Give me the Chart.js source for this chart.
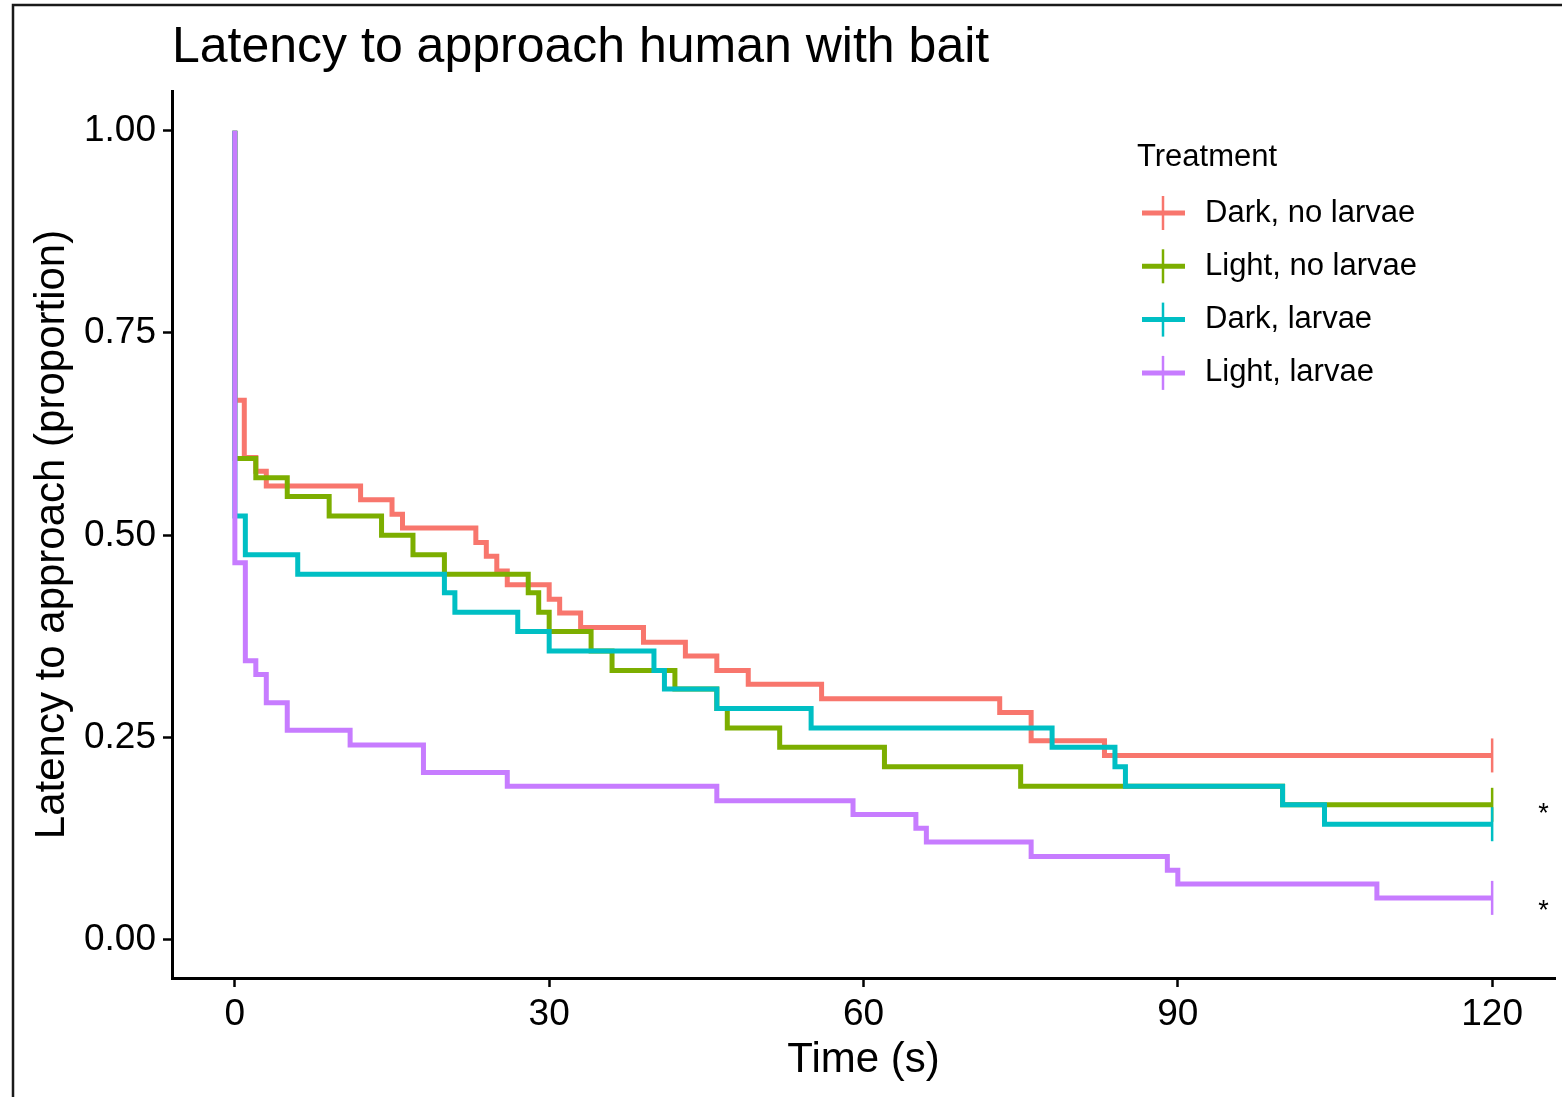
<!DOCTYPE html>
<html>
<head>
<meta charset="utf-8">
<title>Latency to approach human with bait</title>
<script src="https://cdn.jsdelivr.net/npm/chart.js@4.4.1/dist/chart.umd.min.js"></script>
<style>
  html, body { margin: 0; padding: 0; background: #fff; }
  canvas { display: block; }
</style>
</head>
<body>
<canvas id="survChart" width="1562" height="1097"></canvas>
<script>
// Kaplan-Meier steps (time in s, proportion not yet approached)
const groups = ['Dark, no larvae', 'Light, no larvae', 'Dark, larvae', 'Light, larvae'];
const groupColors = ['#F8766D', '#7CAE00', '#00BFC4', '#C77CFF'];

const darkNoLarvaeTime = [0, 0, 0.9, 2, 3, 12, 15, 16, 23, 24, 25, 26, 30, 31, 33, 39, 43, 46, 49, 56, 73, 76, 83, 120];
const darkNoLarvaeSurv = [1, 0.667, 0.596, 0.579, 0.561, 0.544, 0.526, 0.509, 0.491, 0.474, 0.456, 0.439, 0.421, 0.404, 0.386, 0.368, 0.351, 0.333, 0.316, 0.298, 0.281, 0.246, 0.228, 0.228];

const lightNoLarvaeTime = [0, 0, 2, 5, 9, 14, 17, 20, 28, 29, 30, 34, 36, 42, 46, 47, 52, 62, 75, 100, 120];
const lightNoLarvaeSurv = [1, 0.595, 0.571, 0.548, 0.524, 0.500, 0.476, 0.452, 0.429, 0.405, 0.381, 0.357, 0.333, 0.310, 0.286, 0.262, 0.238, 0.214, 0.190, 0.167, 0.167];

const darkLarvaeTime = [0, 0, 1, 6, 20, 21, 27, 30, 40, 41, 46, 55, 78, 84, 85, 100, 104, 120];
const darkLarvaeSurv = [1, 0.524, 0.476, 0.452, 0.429, 0.405, 0.381, 0.357, 0.333, 0.310, 0.286, 0.262, 0.238, 0.214, 0.190, 0.167, 0.143, 0.143];

const lightLarvaeTime = [0, 0, 1, 2, 3, 5, 11, 18, 26, 46, 59, 65, 66, 76, 89, 90, 109, 120];
const lightLarvaeSurv = [1, 0.466, 0.345, 0.328, 0.293, 0.259, 0.241, 0.207, 0.190, 0.172, 0.155, 0.138, 0.121, 0.103, 0.086, 0.069, 0.052, 0.052];

const xTicks = [0, 30, 60, 90, 120];
const yTicks = [0, 0.25, 0.5, 0.75, 1];
const starValues = [0.16, 0.04];   // the two '*' notes right of the curves
const starTime = 125;

const FONT = '"Liberation Sans", Arial, sans-serif';
const times = [darkNoLarvaeTime, lightNoLarvaeTime, darkLarvaeTime, lightLarvaeTime];
const survs = [darkNoLarvaeSurv, lightNoLarvaeSurv, darkLarvaeSurv, lightLarvaeSurv];

const datasets = groups.map((name, i) => {
    const n = times[i].length;
    return {
        label: name,
        data: times[i].map((t, j) => ({ x: t, y: survs[i][j] })),
        borderColor: groupColors[i],
        borderWidth: 5,
        stepped: 'before',
        fill: false,
        pointStyle: 'line',
        rotation: 90,
        pointBorderColor: groupColors[i],
        pointBorderWidth: 2.5,
        // censor tick only at the end of follow-up
        pointRadius: ctx => ctx.dataIndex === n - 1 ? 17 : 0,
        order: 3 - i
    };
});

// title, legend, asterisks and the outer frame
const decorPlugin = {
    id: 'decor',
    afterDraw(chart) {
        const ctx = chart.ctx;
        const { x, y } = chart.scales;
        ctx.save();

        ctx.strokeStyle = '#1a1a1a';
        ctx.lineWidth = 2.5;
        ctx.beginPath();
        ctx.moveTo(13, 1097);
        ctx.lineTo(13, 5);
        ctx.lineTo(1562, 5);
        ctx.stroke();

        ctx.fillStyle = '#000';
        ctx.textAlign = 'left';
        ctx.textBaseline = 'alphabetic';
        ctx.font = '50px ' + FONT;
        ctx.fillText('Latency to approach human with bait', 172, 62);

        ctx.textBaseline = 'middle';
        ctx.font = '31px ' + FONT;
        ctx.fillText('Treatment', 1137, 157);
        groups.forEach((g, i) => {
            const cy = 213 + i * 53.3;
            ctx.strokeStyle = groupColors[i];
            ctx.lineWidth = 5;
            ctx.beginPath();
            ctx.moveTo(1142, cy);
            ctx.lineTo(1185, cy);
            ctx.stroke();
            ctx.lineWidth = 2.5;
            ctx.beginPath();
            ctx.moveTo(1163, cy - 17);
            ctx.lineTo(1163, cy + 17);
            ctx.stroke();
            ctx.fillStyle = '#000';
            ctx.fillText(g, 1205, cy);
        });

        ctx.textAlign = 'center';
        ctx.font = '27px ' + FONT;
        starValues.forEach(v => {
            ctx.fillText('*', x.getPixelForValue(starTime) - 1, y.getPixelForValue(v) + 4);
        });
        ctx.restore();
    }
};

new Chart(document.getElementById('survChart'), {
    type: 'line',
    data: { datasets: datasets },
    options: {
        responsive: false,
        animation: false,
        events: [],
        layout: { autoPadding: false, padding: { top: 91, right: 7, left: 0, bottom: 0 } },
        plugins: {
            legend: { display: false },
            tooltip: { enabled: false }
        },
        scales: {
            x: {
                type: 'linear',
                min: -6,
                max: 126,
                afterBuildTicks: s => { s.ticks = xTicks.map(v => ({ value: v })); },
                afterFit: s => { s.height = 119; s.paddingLeft = 0; s.paddingRight = 0; },
                grid: { drawOnChartArea: false, drawTicks: true, tickLength: 9, tickWidth: 2.5, tickColor: '#000' },
                border: { display: true, color: '#000', width: 3 },
                ticks: { color: '#000', font: { family: FONT, size: 37 }, padding: 6, maxRotation: 0 },
                title: { display: true, text: 'Time (s)', color: '#000', font: { family: FONT, size: 42 }, padding: { top: 0, bottom: 11 } }
            },
            y: {
                type: 'linear',
                min: -0.047,
                max: 1.049,
                afterBuildTicks: s => { s.ticks = yTicks.map(v => ({ value: v })); },
                afterFit: s => { s.width = 172; s.paddingTop = 0; s.paddingBottom = 0; },
                grid: { drawOnChartArea: false, drawTicks: true, tickLength: 9, tickWidth: 2.5, tickColor: '#000' },
                border: { display: true, color: '#000', width: 3 },
                ticks: { color: '#000', font: { family: FONT, size: 37 }, padding: 7, callback: v => v.toFixed(2) },
                title: { display: true, text: 'Latency to approach (proportion)', color: '#000', font: { family: FONT, size: 42 }, padding: { top: 27, bottom: 0 } }
            }
        }
    },
    plugins: [decorPlugin]
});
</script>
</body>
</html>
